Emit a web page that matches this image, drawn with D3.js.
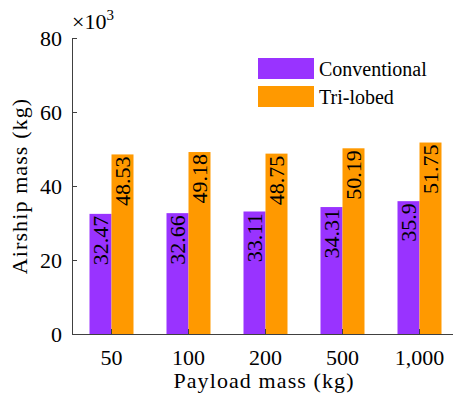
<!DOCTYPE html>
<html lang="en">
<head>
<meta charset="UTF-8" />
<title>Airship mass</title>
<style>
  body, html { margin: 0; padding: 0; background: white; }
  svg { display: block; }
  .axis path, .axis line { stroke: #404040; }
  .axis text { font-size: 22px; fill: black; }
</style>
</head>
<body>
<div id="chart"></div>
<script src="https://cdn.jsdelivr.net/npm/d3@7"></script>
<script>
const categories = ["50", "100", "200", "500", "1,000"];
const conventional = [32.47, 32.66, 33.11, 34.31, 35.9];
const trilobed = [48.53, 49.18, 48.75, 50.19, 51.75];
const yTicks = [0, 20, 40, 60, 80];
const seriesNames = ["Conventional", "Tri-lobed"];
const colors = ["#9933ff", "#ff9900"];

const w = 453, h = 396;
const margin = { top: 38, left: 72, bottom: 62, right: -5 };
const serif = "'Liberation Serif', serif";

const svg = d3.select("#chart").append("svg")
  .attr("width", w).attr("height", h);

// x band per payload group, each holding two bars
const x = d3.scaleBand()
  .domain(categories)
  .range([margin.left + 1, w - margin.right])
  .paddingInner(0).paddingOuter(0);

const y = d3.scaleLinear()
  .domain([0, 80])
  .range([h - margin.bottom, margin.top]);

const barW = 22;
const series = [conventional, trilobed];

series.forEach((vals, s) => {
  const g = svg.append("g");
  g.selectAll("rect")
    .data(vals)
    .enter().append("rect")
    .attr("x", (d, i) => x(categories[i]) + x.bandwidth() / 2 + (s - 1) * barW)
    .attr("y", d => y(d))
    .attr("width", barW)
    .attr("height", d => y(0) - y(d))
    .style("fill", colors[s]);

  // value labels, rotated, inside top of bar
  g.selectAll("text")
    .data(vals)
    .enter().append("text")
    .attr("transform", (d, i) => {
      const cx = x(categories[i]) + x.bandwidth() / 2 + (s - 1) * barW + barW / 2;
      return "translate(" + (cx + 7) + "," + (y(d) + 2) + ") rotate(-90)";
    })
    .attr("text-anchor", "end")
    .style("font-size", "22px")
    .style("fill", "black")
    .text(d => d);
});

// axes with inward ticks
const xAxis = d3.axisBottom(x).tickSize(-5).tickPadding(12).tickSizeOuter(0);
const yAxis = d3.axisLeft(y).tickValues(yTicks).tickSize(-5).tickPadding(10).tickSizeOuter(0);

svg.append("g")
  .classed("x axis", true)
  .attr("transform", "translate(0," + y(0) + ")")
  .call(xAxis);

svg.append("g")
  .classed("y axis", true)
  .attr("transform", "translate(" + margin.left + ",0)")
  .call(yAxis);

svg.selectAll(".x.axis .tick text").attr("dy", "0.85em");
svg.selectAll(".y.axis .tick text").attr("dy", "0.35em");

// axis titles
svg.append("text")
  .attr("x", 264).attr("y", 388)
  .attr("text-anchor", "middle")
  .style("font-size", "22px")
  .style("letter-spacing", "1.1px")
  .text("Payload mass (kg)");

svg.append("text")
  .attr("transform", "translate(27," + (y(40)) + ") rotate(-90)")
  .attr("text-anchor", "middle")
  .style("font-size", "22px")
  .style("letter-spacing", "1.1px")
  .text("Airship mass (kg)");

// scale multiplier
const mult = svg.append("text")
  .attr("x", 72).attr("y", 29)
  .style("font-size", "22px");
mult.append("tspan").text("×10");
mult.append("tspan").attr("dy", -9).style("font-size", "15px").text("3");

// legend
const legend = svg.append("g").attr("transform", "translate(258,58)");
seriesNames.forEach((name, i) => {
  legend.append("rect")
    .attr("x", 0).attr("y", i * 28)
    .attr("width", 56).attr("height", 21)
    .style("fill", colors[i]);
  legend.append("text")
    .attr("x", 61).attr("y", i * 28 + 18)
    .style("font-size", "20px")
    .text(name);
});

svg.selectAll("text").style("font-family", serif);
</script>
</body>
</html>
